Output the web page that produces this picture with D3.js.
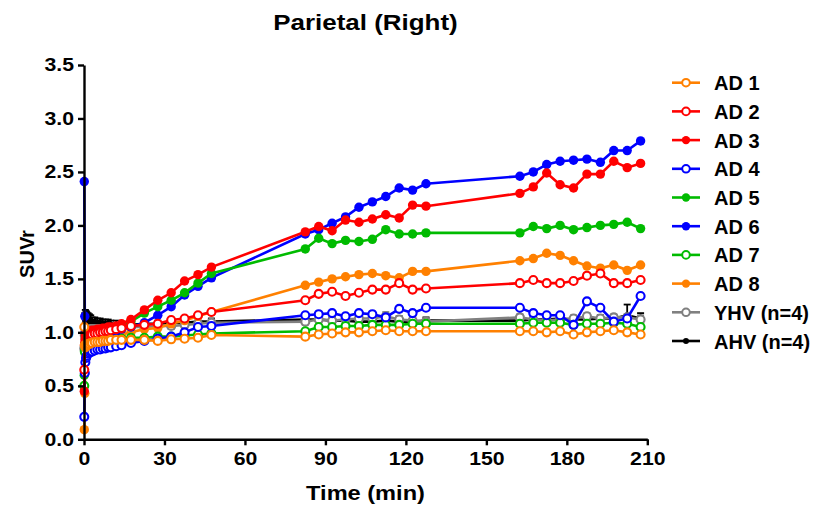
<!DOCTYPE html>
<html><head><meta charset="utf-8">
<script src="https://cdn.jsdelivr.net/npm/d3@7"></script>
<style>body{margin:0;background:#fff}svg{display:block}</style>
</head><body>
<svg id="c" width="821" height="509"></svg>
<script>
// ---- data ----
const times = [0.1,0.3,0.5,0.75,1,1.5,2,2.5,3,4,5,6,7,8,9,10,12,14,17.5,22.5,27.5,32.5,37.5,42.5,47.5,
  82.5,87.5,92.5,97.5,102.5,107.5,112.5,117.5,122.5,127.5,
  162.5,167.5,172.5,177.5,182.5,187.5,192.5,197.5,202.5,207.5];
const xTicks = [0,30,60,90,120,150,180,210];
const yTicks = [0,0.5,1,1.5,2,2.5,3,3.5];
const seriesNames = ["AD 1","AD 2","AD 3","AD 4","AD 5","AD 6","AD 7","AD 8","YHV (n=4)","AHV (n=4)"];
const seriesColors = ["#FF8000","#FF0000","#FF0000","#0000FF","#00BB00","#0000FF","#00BB00","#FF8000","#808080","#000000"];
const seriesFilled = [false,false,true,false,true,true,false,true,false,true];

const AD1 = [1.05,0.88,0.86,0.87,0.88,0.89,0.89,0.90,0.90,0.91,0.91,0.91,0.92,0.92,0.92,0.93,0.93,0.93,0.93,0.93,0.92,0.935,0.94,0.95,0.975,
  0.96,0.98,0.99,1.00,1.00,1.01,1.02,1.01,1.01,1.01, 1.01,1.01,1.00,1.01,0.98,1.00,1.01,1.02,1.00,0.98];
const AD2 = [0.65,0.88,0.93,0.95,0.96,0.97,0.97,0.98,0.98,0.99,0.99,1.00,1.00,1.01,1.01,1.02,1.03,1.04,1.06,1.07,1.08,1.115,1.13,1.16,1.19,
  1.30,1.36,1.38,1.34,1.37,1.40,1.40,1.46,1.40,1.41, 1.46,1.49,1.46,1.46,1.48,1.53,1.55,1.46,1.46,1.49];
const AD3 = [0.45,0.90,0.97,0.99,1.00,1.00,1.01,1.01,1.02,1.02,1.03,1.03,1.04,1.04,1.05,1.05,1.06,1.08,1.12,1.21,1.30,1.37,1.48,1.54,1.61,
  1.94,1.99,1.95,2.05,2.03,2.06,2.10,2.07,2.19,2.18, 2.30,2.36,2.49,2.38,2.35,2.48,2.48,2.60,2.54,2.58];
const AD4 = [0.21,0.62,0.72,0.76,0.78,0.80,0.81,0.82,0.82,0.83,0.84,0.84,0.85,0.85,0.86,0.86,0.87,0.88,0.90,0.92,0.94,0.96,1.00,1.05,1.06,
  1.16,1.17,1.18,1.15,1.18,1.17,1.14,1.22,1.18,1.23, 1.23,1.18,1.16,1.16,1.07,1.29,1.23,1.10,1.13,1.34];
const AD5 = [0.60,0.88,0.94,0.96,0.97,0.98,0.98,0.99,0.99,1.00,1.00,1.01,1.01,1.02,1.02,1.03,1.04,1.06,1.10,1.18,1.24,1.30,1.37,1.46,1.55,
  1.78,1.88,1.83,1.86,1.85,1.87,1.96,1.92,1.92,1.93, 1.93,1.99,1.97,2.00,1.96,1.98,2.00,2.01,2.03,1.97];
const AD6 = [2.41,1.15,1.00,0.96,0.95,0.95,0.96,0.96,0.97,0.97,0.98,0.98,0.99,0.99,1.00,1.00,1.01,1.03,1.05,1.09,1.16,1.24,1.35,1.43,1.51,
  1.92,1.96,2.02,2.08,2.17,2.22,2.27,2.35,2.33,2.39, 2.46,2.50,2.57,2.60,2.61,2.62,2.59,2.70,2.70,2.79];
const AD7 = [0.50,0.82,0.86,0.88,0.89,0.90,0.90,0.91,0.91,0.92,0.92,0.92,0.93,0.93,0.93,0.94,0.94,0.94,0.95,0.95,0.96,0.96,0.97,0.98,0.99,
  1.01,1.05,1.05,1.06,1.06,1.07,1.07,1.07,1.08,1.08, 1.08,1.09,1.09,1.09,1.07,1.08,1.08,1.09,1.08,1.05];
const AD8 = [0.09,0.43,0.80,0.86,0.88,0.90,0.91,0.92,0.92,0.93,0.94,0.94,0.95,0.95,0.96,0.96,0.97,0.98,1.00,1.03,1.04,1.08,1.11,1.15,1.19,
  1.44,1.47,1.50,1.52,1.54,1.55,1.53,1.51,1.57,1.57, 1.67,1.69,1.74,1.72,1.67,1.62,1.60,1.63,1.58,1.63];
const YHV = [0.85,0.97,1.00,1.01,1.02,1.02,1.02,1.03,1.03,1.03,1.03,1.03,1.03,1.03,1.04,1.04,1.04,1.04,1.05,1.05,1.06,1.06,1.07,1.08,1.09,
  1.10,1.12,1.11,1.12,1.13,1.13,1.15,1.12,1.11,1.10, 1.14,1.12,1.11,1.12,1.13,1.15,1.13,1.14,1.14,1.12];
const YHVerr = [0.05,0.04,0.03,0.03,0.03,0.03,0.03,0.03,0.03,0.03,0.03,0.03,0.03,0.03,0.03,0.03,0.03,0.03,0.03,0.03,0.03,0.03,0.03,0.03,0.03,
  0.03,0.03,0.03,0.04,0.03,0.03,0.04,0.03,0.03,0.03, 0.03,0.03,0.03,0.03,0.03,0.03,0.03,0.03,0.03,0.04];
const AHV = [0.95,1.12,1.15,1.15,1.14,1.13,1.12,1.11,1.10,1.10,1.09,1.09,1.08,1.08,1.08,1.07,1.07,1.07,1.07,1.08,1.08,1.09,1.09,1.10,1.10,
  1.12,1.12,1.11,1.11,1.10,1.10,1.11,1.10,1.10,1.11, 1.11,1.12,1.12,1.13,1.12,1.12,1.13,1.13,1.16,1.13];
const AHVerr = [0.08,0.06,0.06,0.05,0.05,0.05,0.05,0.05,0.04,0.04,0.04,0.04,0.04,0.04,0.04,0.04,0.04,0.03,0.03,0.03,0.03,0.03,0.03,0.03,0.03,
  0.02,0.02,0.03,0.03,0.04,0.04,0.03,0.05,0.03,0.03, 0.03,0.03,0.03,0.03,0.03,0.03,0.03,0.03,0.10,0.05];

const seriesValues = [AD1,AD2,AD3,AD4,AD5,AD6,AD7,AD8,YHV,AHV];
const seriesErrors = [null,null,null,null,null,null,null,null,YHVerr,AHVerr];

// ---- chart ----
const svg = d3.select("#c");
const FONT = "Arial, 'Liberation Sans', sans-serif";
const x = d3.scaleLinear().domain([0,210]).range([84,647.3]);
const y = d3.scaleLinear().domain([0,3.5]).range([439.3,65]);

// title
svg.append("text").attr("transform","translate(365.5,30) scale(1.18,1)")
  .attr("text-anchor","middle").attr("font-family",FONT).attr("font-weight","bold")
  .attr("font-size",22).text("Parietal (Right)");

// series (reverse order so AD 1 ends on top)
const line = d3.line().x(d=>x(d.t)).y(d=>y(d.v));
const plot = svg.append("g");
for (let i = seriesNames.length-1; i >= 0; i--) {
  const col = seriesColors[i];
  const data = times.map((t,k)=>({t, v: seriesValues[i][k], e: seriesErrors[i] ? seriesErrors[i][k] : 0}));
  const g = plot.append("g");
  if (seriesErrors[i]) {
    const eb = g.selectAll("g.eb").data(data).enter().append("g").attr("stroke",col).attr("stroke-width",1.8);
    eb.append("line").attr("x1",d=>x(d.t)).attr("x2",d=>x(d.t)).attr("y1",d=>y(d.v-d.e)).attr("y2",d=>y(d.v+d.e));
    eb.append("line").attr("x1",d=>x(d.t)-3.5).attr("x2",d=>x(d.t)+3.5).attr("y1",d=>y(d.v+d.e)).attr("y2",d=>y(d.v+d.e));
    eb.append("line").attr("x1",d=>x(d.t)-3.5).attr("x2",d=>x(d.t)+3.5).attr("y1",d=>y(d.v-d.e)).attr("y2",d=>y(d.v-d.e));
  }
  g.append("path").datum(data).attr("d",line).attr("fill","none").attr("stroke",col).attr("stroke-width",2.6);
  const isAHV = i === 9;
  g.selectAll("circle").data(data).enter().append("circle")
    .attr("cx",d=>x(d.t)).attr("cy",d=>y(d.v))
    .attr("r", seriesFilled[i] ? (isAHV ? 3 : 4.7) : 4.0)
    .attr("fill", seriesFilled[i] ? col : "#fff")
    .attr("stroke", col).attr("stroke-width", seriesFilled[i] ? 0 : 2.1);
}

// axes
const yAxis = d3.axisLeft(y).tickValues(yTicks).tickFormat(d3.format(".1f")).tickSize(6).tickSizeOuter(0).tickPadding(3);
const xAxis = d3.axisBottom(x).tickValues(xTicks).tickFormat(d3.format("d")).tickSize(6).tickSizeOuter(0).tickPadding(7);
const gy = svg.append("g").attr("transform","translate(84,0)").call(yAxis);
const gx = svg.append("g").attr("transform","translate(0,439.3)").call(xAxis);
[gx,gy].forEach(g=>{
  g.select(".domain").attr("stroke","#000").attr("stroke-width",2.4);
  g.selectAll(".tick line").attr("stroke","#000").attr("stroke-width",2.4);
  g.selectAll(".tick text").attr("font-family",FONT).attr("font-weight","bold")
    .attr("font-size",18).attr("fill","#000").attr("transform","scale(1.18,1)");
});
gy.selectAll(".tick text").attr("x",-8.5);

// axis titles
svg.append("text").attr("transform","translate(365.5,500) scale(1.18,1)")
  .attr("text-anchor","middle").attr("font-family",FONT).attr("font-weight","bold")
  .attr("font-size",20).text("Time (min)");
svg.append("text").attr("transform","translate(34,254) rotate(-90)")
  .attr("text-anchor","middle").attr("font-family",FONT).attr("font-weight","bold")
  .attr("font-size",20).text("SUVr");

// legend
const leg = svg.append("g");
seriesNames.forEach((name,i)=>{
  const cy = 82.7 + i*28.7;
  const col = seriesColors[i];
  const g = leg.append("g");
  g.append("line").attr("x1",672).attr("x2",700).attr("y1",cy).attr("y2",cy).attr("stroke",col).attr("stroke-width",2.6);
  g.append("circle").attr("cx",686).attr("cy",cy)
    .attr("r", seriesFilled[i] ? (i===9 ? 3 : 4.2) : 3.8)
    .attr("fill", seriesFilled[i] ? col : "#fff").attr("stroke",col).attr("stroke-width", seriesFilled[i]?0:2);
  g.append("text").attr("x",714).attr("y",cy+7.5).attr("font-family",FONT).attr("font-weight","bold")
    .attr("font-size",20).attr("fill","#000").text(name);
});
</script>
</body></html>
